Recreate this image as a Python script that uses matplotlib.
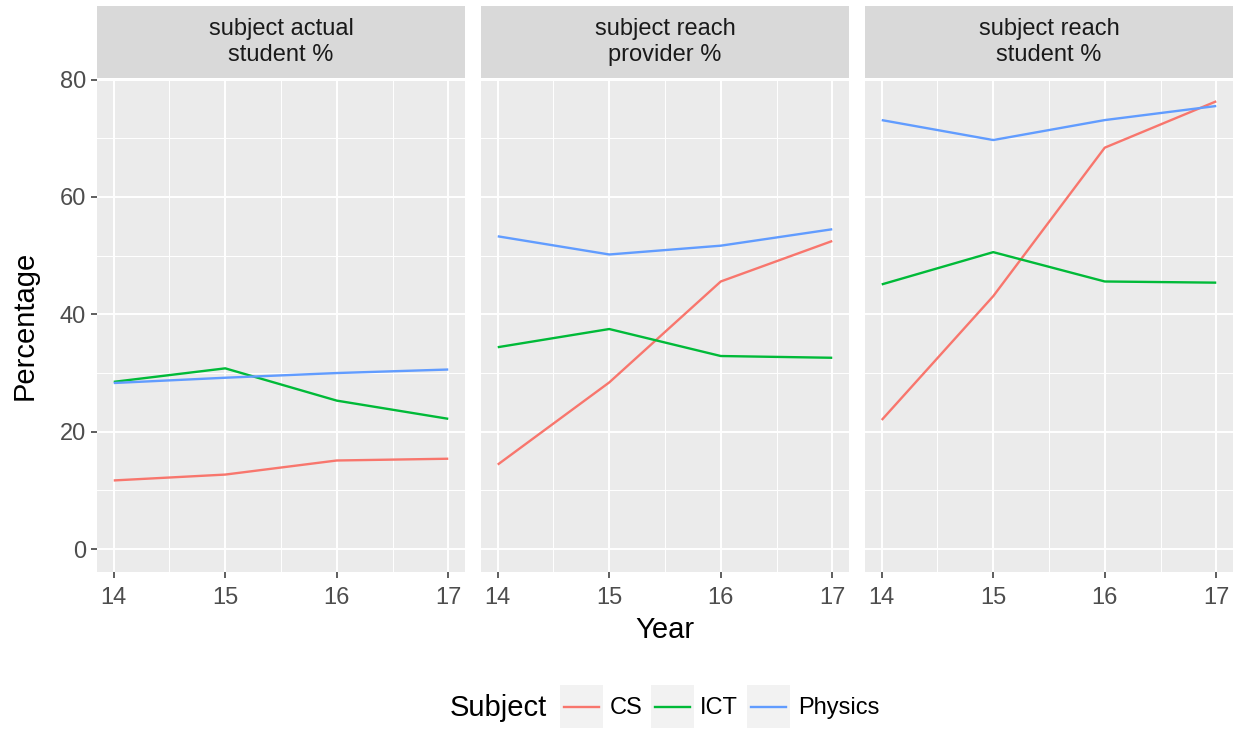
import matplotlib
matplotlib.use("Agg")
import matplotlib.pyplot as plt
from matplotlib.patches import Rectangle
from matplotlib.lines import Line2D

plt.rcParams['font.family'] = ['Liberation Sans', 'DejaVu Sans']

years = [14, 15, 16, 17]
facets = ["subject actual\nstudent %", "subject reach\nprovider %", "subject reach\nstudent %"]
subjects = ["CS", "ICT", "Physics"]
colors = ["#F8766D", "#00BA38", "#619CFF"]

cs_actual = [11.7, 12.7, 15.1, 15.4]
ict_actual = [28.5, 30.8, 25.3, 22.2]
phys_actual = [28.3, 29.2, 30.0, 30.6]

cs_provider = [14.4, 28.4, 45.6, 52.5]
ict_provider = [34.4, 37.5, 32.9, 32.6]
phys_provider = [53.3, 50.2, 51.7, 54.5]

cs_student = [22.0, 43.1, 68.4, 76.3]
ict_student = [45.1, 50.6, 45.6, 45.4]
phys_student = [73.1, 69.7, 73.1, 75.5]

data = [
    [cs_actual, ict_actual, phys_actual],
    [cs_provider, ict_provider, phys_provider],
    [cs_student, ict_student, phys_student],
]

y_ticks = [0, 20, 40, 60, 80]
y_minor = [10, 30, 50, 70]
x_minor = [14.5, 15.5, 16.5]

W, H = 1241, 730
fig = plt.figure(figsize=(W / 100, H / 100), dpi=100)
fig.patch.set_facecolor("white")


def px(x0, y0, x1, y1):
    return [x0 / W, 1 - y1 / H, (x1 - x0) / W, (y1 - y0) / H]


panel_left = [97, 481, 865]
panel_w = 368
ptop, pbot = 79, 572
stop, sbot = 6, 78

tick_fs = 17
title_fs = 21
for i, (xl, series) in enumerate(zip(panel_left, data)):
    ax = fig.add_axes(px(xl, ptop, xl + panel_w, pbot))
    ax.set_facecolor("#EBEBEB")
    for v in y_minor:
        ax.axhline(v, color="white", lw=0.7, zorder=0)
    for v in x_minor:
        ax.axvline(v, color="white", lw=0.7, zorder=0)
    for v in y_ticks:
        ax.axhline(v, color="white", lw=1.4, zorder=0.5)
    for v in years:
        ax.axvline(v, color="white", lw=1.4, zorder=0.5)
    for vals, c in zip(series, colors):
        ax.plot(years, vals, color=c, lw=1.7, zorder=2, solid_capstyle="butt")
    ax.set_xlim(13.85, 17.15)
    ax.set_ylim(-3.9, 80.1)
    ax.set_xticks(years)
    ax.set_xticklabels([str(y) for y in years])
    ax.set_yticks(y_ticks)
    if i == 0:
        ax.set_yticklabels([str(v) for v in y_ticks])
        ax.tick_params(axis="y", length=4, width=1.1, color="#333333",
                       labelcolor="#4D4D4D", labelsize=tick_fs, pad=4)
    else:
        ax.tick_params(axis="y", length=0, labelleft=False)
    ax.tick_params(axis="x", length=4, width=1.1, color="#333333",
                   labelcolor="#4D4D4D", labelsize=tick_fs, pad=6.5)
    for s in ax.spines.values():
        s.set_visible(False)

    sax = fig.add_axes(px(xl, stop, xl + panel_w, sbot))
    sax.set_facecolor("#D9D9D9")
    sax.set_xticks([])
    sax.set_yticks([])
    for s in sax.spines.values():
        s.set_visible(False)
    sax.text(0.5, 0.5, facets[i], ha="center", va="center", fontsize=tick_fs,
             color="#1A1A1A", linespacing=1.22, transform=sax.transAxes)

fig.text(25 / W, 1 - 325 / H, "Percentage", rotation=90, ha="center", va="center",
         fontsize=title_fs, color="black")
fig.text(665 / W, 1 - 630 / H, "Year", ha="center", va="center",
         fontsize=title_fs, color="black")

# legend
lax = fig.add_axes([0, 0, 1, 1], zorder=5)
lax.set_xlim(0, W)
lax.set_ylim(H, 0)
lax.axis("off")
lax.text(450, 708, "Subject", ha="left", va="center", fontsize=title_fs, color="black")
key_x = [560, 651, 747]
label_x = [610, 700, 798]
for kx, lx, c, s in zip(key_x, label_x, colors, subjects):
    lax.add_patch(Rectangle((kx, 685), 43, 43, facecolor="#F2F2F2", edgecolor="none"))
    lax.add_line(Line2D([kx + 4, kx + 39], [706.5, 706.5], color=c, lw=1.7))
    lax.text(lx, 708, s, ha="left", va="center", fontsize=tick_fs, color="black")

fig.savefig("out.png", dpi=100)
